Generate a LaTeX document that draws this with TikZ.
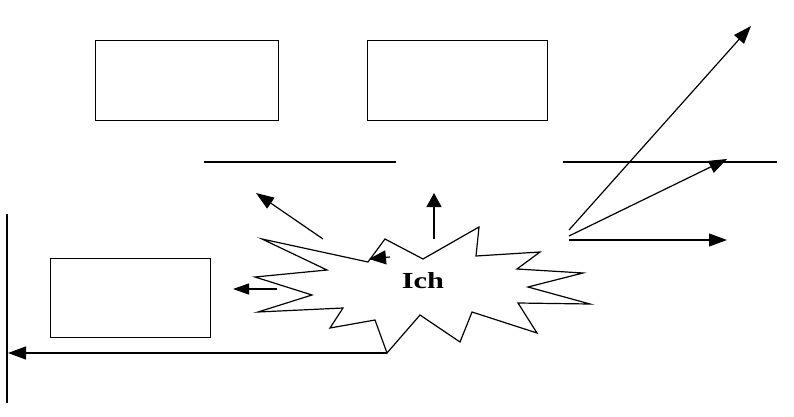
\documentclass[tikz,border=0pt]{standalone}
\usepackage{fontspec}
\setmainfont{Liberation Serif}
\usetikzlibrary{arrows.meta}
\tikzset{
  ln/.style={line width=1.2pt, line join=miter},
  arr/.style={ln, -{Triangle[length=18pt,width=13pt]}},
  sarr/.style={ln, -{Triangle[length=16pt,width=11pt]}},
  box/.style={draw, line width=1.3pt, minimum width=#1, minimum height=80pt, inner sep=0pt, anchor=north west},
}
\begin{document}
\begin{tikzpicture}[x=1pt,y=-1pt]
\useasboundingbox (0,0) rectangle (794,417);
% boxes
\node[box=183pt] (b1) at (95,40) {};
\node[box=180pt] (b2) at (367,40) {};
\node[box=160pt, minimum height=79pt] (b3) at (50,258) {};
% horizontal lines
\coordinate (l1a) at (204,162); \coordinate (l1b) at (396,162);
\coordinate (l2a) at (563,162); \coordinate (l2b) at (777,162);
\draw[ln] (l1a) -- (l1b);
\draw[ln] (l2a) -- (l2b);
% vertical line
\coordinate (va) at (7,214); \coordinate (vb) at (7,403);
\draw[line width=1.5pt] (va) -- (vb);
% star
\draw[ln] (262,239) -- (368,262) -- (385,239) -- (423,259) -- (479,227) -- (476,256)
  -- (540,252) -- (517,269) -- (583,273) -- (528,287) -- (590,304) -- (518,303)
  -- (537,333) -- (472,312) -- (460,342) -- (420,315) -- (387,353) coordinate (sb)
  -- (375,320) -- (330,328) -- (343,308) -- (258,312) -- (312,295) -- (255,277)
  -- (327,270) -- cycle;
\node[font=\bfseries\fontsize{23}{23}\selectfont] (ich) at (423,281) {\scalebox{1.32}[1]{Ich}};
% arrows from star
\coordinate (bl) at (8,353);
\draw[arr] (sb) -- (bl);
\coordinate (ula) at (323,239); \coordinate (ulb) at (256,193);
\draw[arr] (ula) -- (ulb);
\coordinate (upa) at (434,239); \coordinate (upb) at (434,193);
\draw[ln, -{Triangle[length=14pt,width=15pt]}] (upa) -- (upb);
\coordinate (ina) at (390,257); \coordinate (inb) at (369,259);
\draw[ln, -{Triangle[length=17pt,width=14pt]}] (ina) -- (inb);
\coordinate (sla) at (277,289); \coordinate (slb) at (233,289);
\draw[sarr] (sla) -- (slb);
% right arrows
\coordinate (r1a) at (569,230); \coordinate (r1b) at (751,26);
\coordinate (r2a) at (569,236); \coordinate (r2b) at (727,159);
\coordinate (r3a) at (569,240); \coordinate (r3b) at (727,240);
\draw[arr] (r1a) -- (r1b);
\draw[arr] (r2a) -- (r2b);
\draw[arr] (r3a) -- (r3b);
\end{tikzpicture}
\end{document}
